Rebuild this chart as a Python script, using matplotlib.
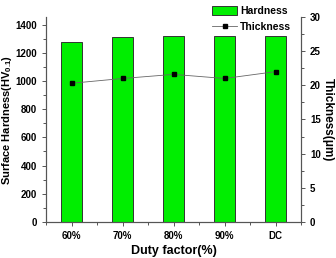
import numpy as np
import matplotlib.pyplot as plt
from matplotlib.ticker import MultipleLocator

categories = ['60%', '70%', '80%', '90%', 'DC']
hardness = [1280, 1315, 1318, 1320, 1320]
thickness = [20.3, 21.0, 21.6, 21.0, 22.0]

plt.rcParams['font.family'] = ['Liberation Sans', 'DejaVu Sans']
plt.rcParams['mathtext.fontset'] = 'custom'
plt.rcParams['mathtext.rm'] = 'Liberation Sans:bold'
plt.rcParams['mathtext.default'] = 'rm'

fig = plt.figure(figsize=(3.36, 2.58), dpi=100)
ax = fig.add_axes([0.137, 0.14, 0.759, 0.794])
x = np.arange(len(categories))

bars = ax.bar(x, hardness, width=0.4, color='#00ee00', edgecolor='#333333', linewidth=0.7, label='Hardness')
ax.set_xlim(-0.5, 4.5)
ax.set_ylim(0, 1455)
ax.set_xticks(x)
ax.set_xticklabels(categories)
ax.xaxis.set_minor_locator(MultipleLocator(0.5))
ax.yaxis.set_major_locator(MultipleLocator(200))
ax.yaxis.set_minor_locator(MultipleLocator(100))
ax.set_ylabel('Surface Hardness(HV$_{0.1}$)', fontsize=8, fontweight='bold', labelpad=1)
ax.set_xlabel('Duty factor(%)', fontsize=9, fontweight='bold', labelpad=3)

ax2 = ax.twinx()
line, = ax2.plot(x, thickness, color='#666666', linewidth=0.6, marker='s', markersize=3.5,
                 markerfacecolor='black', markeredgecolor='black', label='Thickness')
ax2.set_ylim(0, 30)
ax2.yaxis.set_major_locator(MultipleLocator(5))
ax2.yaxis.set_minor_locator(MultipleLocator(2.5))
ax2.set_ylabel('Thickness(\u03bcm)', fontsize=8.5, fontweight='bold', rotation=270, labelpad=9)

for a in (ax, ax2):
    a.spines['top'].set_visible(False)
    for s in a.spines.values():
        s.set_color('#555555')
        s.set_linewidth(0.8)
    a.tick_params(which='both', direction='out', colors='#555555', labelcolor='black', labelsize=7, width=0.7)
    a.tick_params(which='major', length=3)
    a.tick_params(which='minor', length=2)
    for lbl in a.get_xticklabels() + a.get_yticklabels():
        lbl.set_fontweight('bold')

ax.legend([bars, line], ['Hardness', 'Thickness'], loc='upper right', bbox_to_anchor=(0.99, 1.09),
          frameon=False, handlelength=2.4, handleheight=0.9, borderpad=0.2,
          labelspacing=0.55, handletextpad=0.3, prop={'weight': 'bold', 'size': 7.5})

fig.savefig('out.png', dpi=100)
